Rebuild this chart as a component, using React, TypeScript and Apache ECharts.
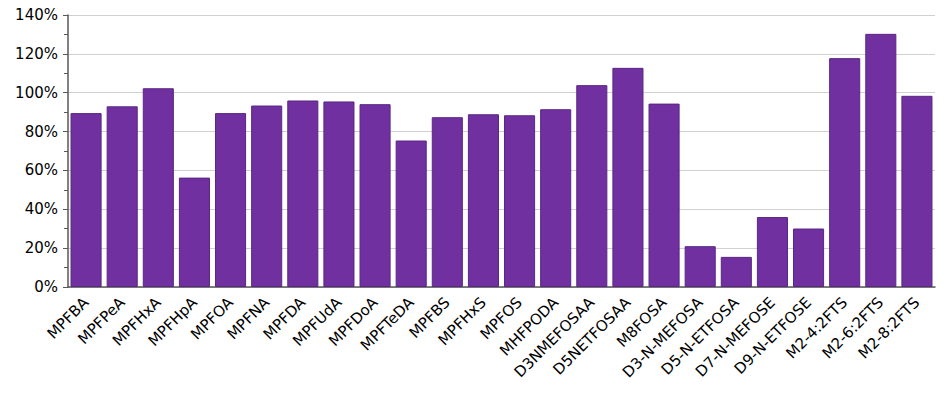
import React, { useEffect, useRef } from "react";
import * as echarts from "echarts";

const categories = [
  "MPFBA", "MPFPeA", "MPFHxA", "MPFHpA", "MPFOA", "MPFNA", "MPFDA", "MPFUdA", "MPFDoA",
  "MPFTeDA", "MPFBS", "MPFHxS", "MPFOS", "MHFPODA", "D3NMEFOSAA", "D5NETFOSAA", "M8FOSA",
  "D3-N-MEFOSA", "D5-N-ETFOSA", "D7-N-MEFOSE", "D9-N-ETFOSE", "M2-4:2FTS", "M2-6:2FTS", "M2-8:2FTS",
];

const recovery = [
  89.5, 93, 102.3, 56.3, 89.5, 93.4, 96, 95.5, 94.1,
  75.4, 87.4, 88.9, 88.4, 91.5, 103.9, 112.8, 94.4,
  21, 15.5, 36, 30.1, 117.8, 130.3, 98.4,
];

const yTicks = { min: 0, max: 140, interval: 20 };

export default function App() {
  const ref = useRef<HTMLDivElement>(null);
  useEffect(() => {
    if (!ref.current) return;
    const chart = echarts.init(ref.current, null, { renderer: "svg" });
    const font = "Verdana, 'DejaVu Sans', sans-serif";
    chart.setOption({
      animation: false,
      grid: { left: 68, right: 15, top: 15, bottom: 108, containLabel: false },
      xAxis: {
        type: "category",
        data: categories,
        axisLine: { show: true, lineStyle: { color: "#595959", width: 1.5 } },
        axisTick: { show: false },
        axisLabel: {
          rotate: 45,
          interval: 0,
          margin: 13,
          fontSize: 15,
          fontFamily: font,
          color: "#000",
        },
      },
      yAxis: {
        type: "value",
        min: yTicks.min,
        max: yTicks.max,
        interval: yTicks.interval,
        axisLine: { show: true, lineStyle: { color: "#595959", width: 1.5 } },
        axisTick: { show: true, length: 5, lineStyle: { color: "#595959" } },
        minorTick: { show: true, splitNumber: 2, length: 4, lineStyle: { color: "#595959" } },
        splitLine: { show: true, lineStyle: { color: "#d0d0d0", width: 1 } },
        axisLabel: {
          formatter: "{value}%",
          fontSize: 15,
          fontFamily: font,
          color: "#000",
          margin: 10,
        },
      },
      series: [
        {
          type: "bar",
          data: recovery,
          barCategoryGap: "14%",
          itemStyle: { color: "#7030A0", borderColor: "#5a2683", borderWidth: 1 },
        },
      ],
    });
    return () => chart.dispose();
  }, []);
  return (
    <div
      ref={ref}
      style={{ position: "fixed", left: 0, top: 0, width: 950, height: 395, background: "#fff" }}
    />
  );
}
